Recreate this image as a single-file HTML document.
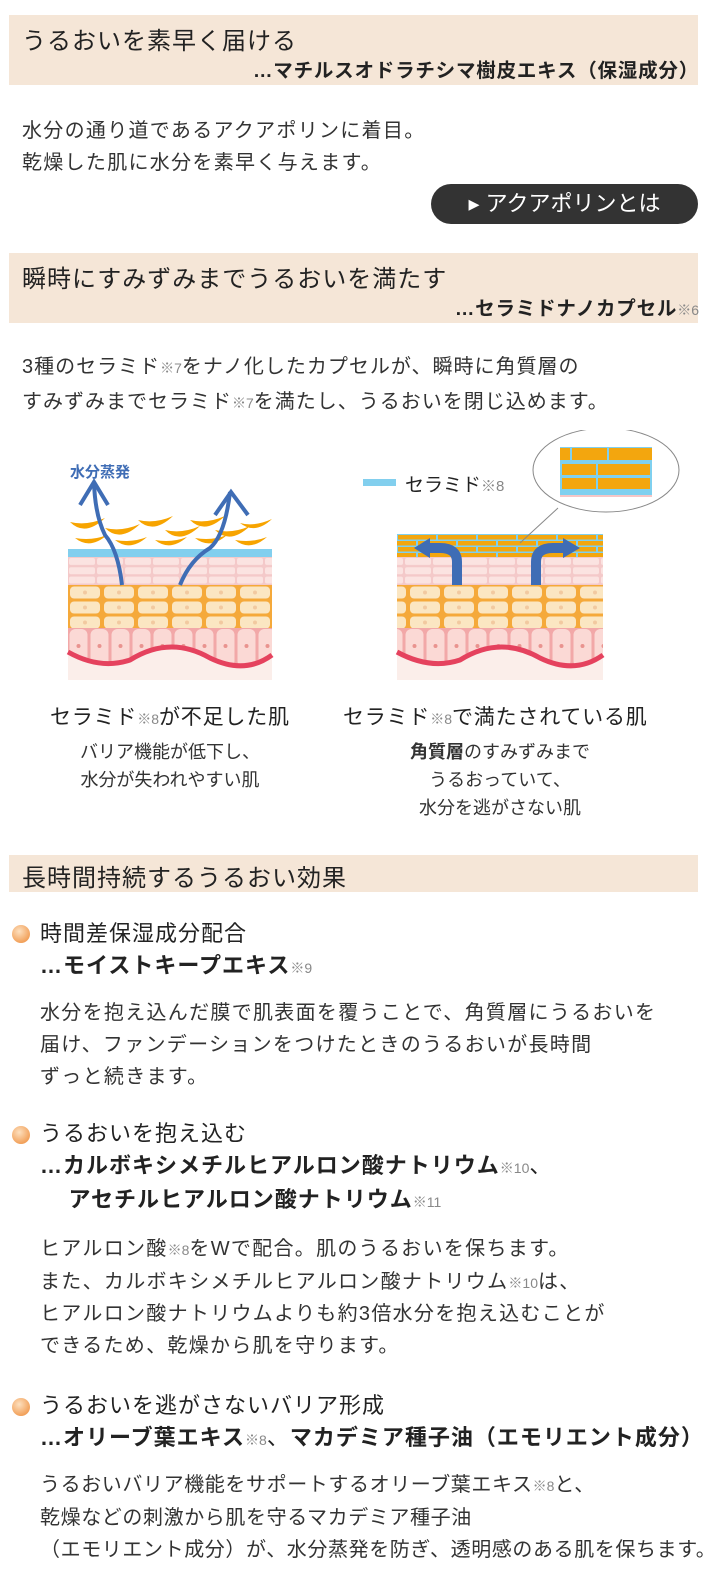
<!DOCTYPE html>
<html><head><meta charset="utf-8"><style>
body{margin:0;width:713px;height:1571px;background:#fff;position:relative;overflow:hidden;font-family:"Liberation Sans","Noto Sans CJK JP",sans-serif;color:#333}
.a{position:absolute;white-space:nowrap}
.band{position:absolute;left:9px;width:689px;background:#f5e6d7}
.t{font-size:24px;letter-spacing:1px;color:#222}
.s{font-size:19.5px;font-weight:bold;color:#222;letter-spacing:0.8px}
.p{font-size:20px;letter-spacing:1.3px;line-height:32px;color:#333}
.sm{font-size:14px;color:#888;font-weight:normal;letter-spacing:0}
.it{font-size:22px;letter-spacing:1px;line-height:32px;color:#222}
.dot{position:absolute;left:12px;width:18px;height:18px;border-radius:50%;background:radial-gradient(circle at 40% 35%,#fde0bf,#f2a25c 70%,#e98a3e)}
</style></head><body>

<div class="band" style="top:15px;height:70px"></div>
<div class="a t" style="left:22px;top:21px">うるおいを素早く届ける</div>
<div class="a s" style="right:14px;top:54px">…マチルスオドラチシマ樹皮エキス（保湿成分）</div>
<div class="a p" style="left:22px;top:115px">水分の通り道であるアクアポリンに着目。<br>乾燥した肌に水分を素早く与えます。</div>
<div class="a" style="left:431px;top:184px;width:267px;height:40px;border-radius:20px;background:#333;color:#fff;font-size:22px;line-height:40px;text-align:center">▸ アクアポリンとは</div>

<div class="band" style="top:253px;height:70px"></div>
<div class="a t" style="left:22px;top:259px">瞬時にすみずみまでうるおいを満たす</div>
<div class="a s" style="right:14px;top:292px">…セラミドナノカプセル<span class="sm">※6</span></div>
<div class="a p" style="left:22px;top:350px;line-height:34px;letter-spacing:1px">3種のセラミド<span class="sm">※7</span>をナノ化したカプセルが、瞬時に角質層の<br>すみずみまでセラミド<span class="sm">※7</span>を満たし、うるおいを閉じ込めます。</div>

<svg class="a" style="left:0;top:430px" width="713" height="260">
<defs>
<pattern id="cell" x="68" y="155" width="34" height="15" patternUnits="userSpaceOnUse"><rect width="34" height="15" fill="#f5a93a"/><rect x="2" y="1.5" width="30" height="12" rx="4" fill="#fbe6c2"/><circle cx="17" cy="7.5" r="2" fill="#f2c9a0"/></pattern>
<pattern id="pk" x="68" y="127" width="28" height="9.3" patternUnits="userSpaceOnUse"><rect width="28" height="9.3" fill="#f4c9c9"/><rect x="1" y="1" width="26" height="7" rx="2" fill="#fbe3e1"/></pattern>
<pattern id="red" x="68" y="198" width="21" height="40" patternUnits="userSpaceOnUse"><rect width="21" height="40" fill="#f2a8a8"/><rect x="1.5" y="1" width="18" height="38" rx="6" fill="#fbd9d5"/><circle cx="10.5" cy="18" r="2" fill="#e9938f"/></pattern>
<pattern id="br" x="397" y="104" width="40" height="12" patternUnits="userSpaceOnUse"><rect width="40" height="12" fill="#7fd0ef"/><rect x="1" y="1" width="38" height="4.5" fill="#f3a60e"/><rect x="21" y="7" width="38" height="4.5" fill="#f3a60e"/><rect x="-19" y="7" width="38" height="4.5" fill="#f3a60e"/></pattern>
</defs>
<text x="70" y="47" font-size="15" font-weight="bold" fill="#3f6db5">水分蒸発</text>
<g>
<rect x="68" y="119" width="204" height="8" fill="#82cfee"/>
<rect x="68" y="127" width="204" height="28" fill="url(#pk)"/>
<rect x="68" y="155" width="204" height="45" fill="url(#cell)"/>
<rect x="68" y="198" width="204" height="52" fill="url(#red)"/>
<path d="M68 222 Q100 240 130 230 Q170 205 210 228 Q245 245 272 225 L272 250 L68 250Z" fill="#fbeeea"/>
<path d="M68 222 Q100 240 130 230 Q170 205 210 228 Q245 245 272 225" stroke="#e5425e" stroke-width="5" fill="none"/>
<g fill="#f7a400">
<path d="M70 92 q15 15 35 -4 q-18 8 -35 4z"/><path d="M105 98 q15 15 35 -4 q-18 8 -35 4z"/><path d="M138 90 q15 15 35 -4 q-18 8 -35 4z"/><path d="M165 100 q15 15 35 -4 q-18 8 -35 4z"/><path d="M190 90 q15 15 35 -4 q-18 8 -35 4z"/><path d="M215 100 q15 15 35 -4 q-18 8 -35 4z"/><path d="M240 93 q15 12 32 -4 q-18 8 -32 4z"/><path d="M75 108 q15 12 32 -3 q-15 6 -32 3z"/><path d="M115 110 q15 12 32 -3 q-15 6 -32 3z"/><path d="M155 110 q15 12 32 -3 q-15 6 -32 3z"/><path d="M195 108 q15 12 32 -3 q-15 6 -32 3z"/><path d="M235 110 q15 12 32 -3 q-15 6 -32 3z"/>
</g>
<path d="M122 155 Q118 120 105 105 Q95 85 94 52" stroke="#3f6db5" stroke-width="4" fill="none"/>
<path d="M80 75 L94 52 L108 75" stroke="#3f6db5" stroke-width="4" fill="none"/>
<path d="M180 155 Q190 130 210 118 Q225 105 230 62" stroke="#3f6db5" stroke-width="4" fill="none"/>
<path d="M215 85 L231 62 L248 85" stroke="#3f6db5" stroke-width="4" fill="none"/>
</g>
<g>
<rect x="397" y="104" width="206" height="23" fill="url(#br)"/>
<rect x="397" y="127" width="206" height="28" fill="url(#pk)"/>
<rect x="397" y="155" width="206" height="45" fill="url(#cell)"/>
<rect x="397" y="198" width="206" height="52" fill="url(#red)"/>
<path d="M397 222 Q430 240 460 230 Q500 205 540 228 Q575 245 603 225 L603 250 L397 250Z" fill="#fbeeea"/>
<path d="M397 222 Q430 240 460 230 Q500 205 540 228 Q575 245 603 225" stroke="#e5425e" stroke-width="5" fill="none"/>
<path d="M457 155 V132 Q457 118 440 118 H428" stroke="#3f6db5" stroke-width="10" fill="none"/>
<path d="M430 108 L414 118 L430 128Z" fill="#3f6db5"/>
<path d="M536 155 V132 Q536 118 553 118 H565" stroke="#3f6db5" stroke-width="10" fill="none"/>
<path d="M563 108 L580 118 L563 128Z" fill="#3f6db5"/>
<line x1="520" y1="113" x2="558" y2="78" stroke="#888"/>
<ellipse cx="606" cy="40" rx="73" ry="42" fill="#fff" stroke="#888"/>
<rect x="560" y="17" width="92" height="50" fill="#7fd0ef"/>
<rect x="560" y="65" width="92" height="2" fill="#f5c6c6"/>
<g fill="#f3a60e"><rect x="560" y="18" width="10" height="12"/><rect x="572" y="18" width="35" height="12"/><rect x="609" y="18" width="43" height="12"/><rect x="562" y="34" width="34" height="11"/><rect x="598" y="34" width="52" height="11"/><rect x="562" y="48" width="34" height="11"/><rect x="598" y="48" width="52" height="11"/></g>
<rect x="363" y="49" width="33" height="7" fill="#82cfee"/>
<text x="405" y="61" font-size="19" fill="#222">セラミド<tspan font-size="15" fill="#888">※8</tspan></text>
</g>
</svg>

<div class="a" style="left:50px;top:701px;font-size:21px;letter-spacing:0.8px;color:#222">セラミド<span class="sm">※8</span>が不足した肌</div>
<div class="a" style="left:55px;top:738px;width:230px;text-align:center;font-size:18px;line-height:28px;color:#333">バリア機能が低下し、<br>水分が失われやすい肌</div>
<div class="a" style="left:343px;top:701px;font-size:21px;letter-spacing:0.8px;color:#222">セラミド<span class="sm">※8</span>で満たされている肌</div>
<div class="a" style="left:385px;top:738px;width:230px;text-align:center;font-size:18px;line-height:28px;color:#333"><b>角質層</b>のすみずみまで<br>うるおっていて、<br>水分を逃がさない肌</div>

<div class="band" style="top:855px;height:37px"></div>
<div class="a t" style="left:22px;top:858px">長時間持続するうるおい効果</div>

<div class="dot" style="top:925px"></div>
<div class="a it" style="left:40px;top:918px">時間差保湿成分配合<br><b>…モイストキープエキス</b><span class="sm">※9</span></div>
<div class="a p" style="left:40px;top:997px">水分を抱え込んだ膜で肌表面を覆うことで、角質層にうるおいを<br>届け、ファンデーションをつけたときのうるおいが長時間<br>ずっと続きます。</div>

<div class="dot" style="top:1126px"></div>
<div class="a it" style="left:40px;top:1118px">うるおいを抱え込む<br><b>…カルボキシメチルヒアルロン酸ナトリウム</b><span class="sm">※10</span>、<br>&nbsp;&nbsp;&nbsp;&nbsp;<b>アセチルヒアルロン酸ナトリウム</b><span class="sm">※11</span></div>
<div class="a p" style="left:40px;top:1234px;line-height:31.5px">ヒアルロン酸<span class="sm">※8</span>をWで配合。肌のうるおいを保ちます。<br>また、カルボキシメチルヒアルロン酸ナトリウム<span class="sm">※10</span>は、<br>ヒアルロン酸ナトリウムよりも約3倍水分を抱え込むことが<br>できるため、乾燥から肌を守ります。</div>

<div class="dot" style="top:1398px"></div>
<div class="a it" style="left:40px;top:1390px">うるおいを逃がさないバリア形成<br><b>…オリーブ葉エキス</b><span class="sm">※8</span>、<b>マカデミア種子油（エモリエント成分）</b></div>
<div class="a p" style="left:40px;top:1469px;letter-spacing:0.6px">うるおいバリア機能をサポートするオリーブ葉エキス<span class="sm">※8</span>と、<br>乾燥などの刺激から肌を守るマカデミア種子油<br>（エモリエント成分）が、水分蒸発を防ぎ、透明感のある肌を保ちます。</div>
</body></html>
